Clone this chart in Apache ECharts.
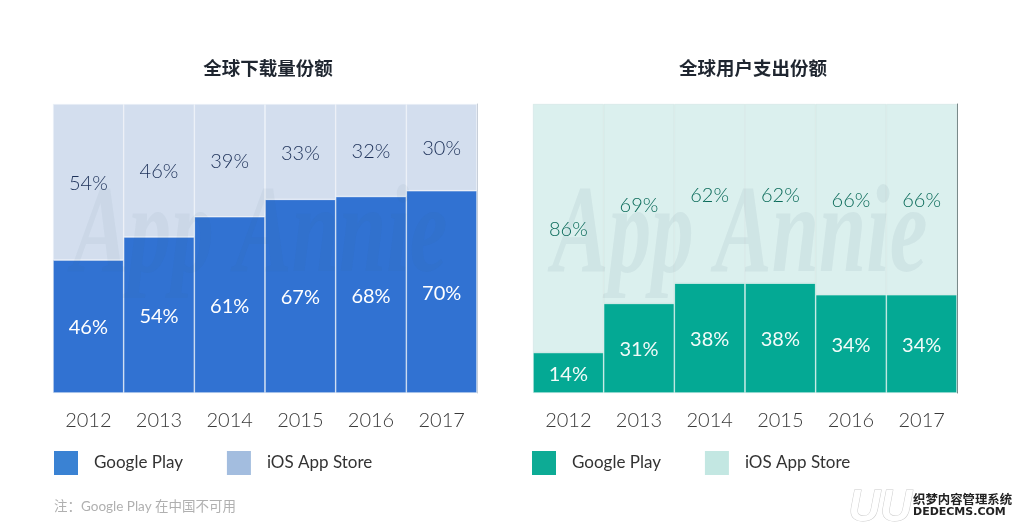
<!DOCTYPE html>
<html>
<head>
<meta charset="utf-8">
<style>
  html, body { margin: 0; padding: 0; background: #fff; }
  #main { width: 1022px; height: 527px; }
</style>
<script src="https://cdn.jsdelivr.net/npm/echarts@6/dist/echarts.min.js"></script>
</head>
<body>
<div id="main"></div>
<script>
const years = ["2012", "2013", "2014", "2015", "2016", "2017"];

// 全球下载量份额
const downloadGoogle = [46, 54, 61, 67, 68, 70];
const downloadIos = [54, 46, 39, 33, 32, 30];

// 全球用户支出份额
const spendGoogle = [14, 31, 38, 38, 34, 34];
const spendIos = [86, 69, 62, 62, 66, 66];

const FONT = "Lato, 'Noto Sans CJK SC', sans-serif";
const myChart = echarts.init(document.getElementById("main"));

function makeXAxis(gridIndex) {
    return {
        type: "category",
        gridIndex: gridIndex,
        data: years,
        axisLine: { show: false },
        axisTick: { show: false },
        axisLabel: { color: "#3a3a3a", fontSize: 20, fontWeight: 300, fontFamily: FONT, margin: 18 },
    };
}

function makeYAxis(gridIndex, edgeColor) {
    return {
        type: "value",
        gridIndex: gridIndex,
        position: "right",
        min: 0,
        max: 100,
        axisLine: { show: true, lineStyle: { color: edgeColor, width: 1 } },
        axisTick: { show: false },
        axisLabel: { show: false },
        splitLine: { show: false },
    };
}

function makeBar(name, data, axisIndex, color, labelColor, labelWeight, borderColor) {
    return {
        name: name,
        type: "bar",
        stack: "share" + axisIndex,
        xAxisIndex: axisIndex,
        yAxisIndex: axisIndex,
        barCategoryGap: 0,
        data: data,
        itemStyle: { color: color, borderColor: borderColor, borderWidth: 0.6 },
        label: {
            show: true,
            position: "inside",
            offset: [0, 1.5],
            formatter: "{c}%",
            color: labelColor,
            fontSize: 20,
            fontWeight: labelWeight,
            fontFamily: FONT,
        },
    };
}

function makeLegend(left, items) {
    return {
        left: left,
        top: 451,
        padding: 0,
        itemWidth: 24,
        itemHeight: 24,
        itemGap: 44,
        selectedMode: false,
        icon: "rect",
        textStyle: { color: "#333", fontSize: 17, fontFamily: FONT, padding: [0, 0, 0, 11] },
        data: items,
    };
}

function makeWatermark(x, opacity) {
    return {
        type: "text",
        left: x,
        top: 176,
        z: 50,
        silent: true,
        scaleX: 0.68,
        style: {
            text: "App Annie",
            fill: "rgba(60, 90, 110, " + opacity + ")",
            font: "italic bold 125px 'Liberation Serif', serif",
        },
    };
}

const titleStyle = { color: "#1f2630", fontSize: 18.5, fontWeight: "bold", fontFamily: "'Noto Sans CJK SC'" };

myChart.setOption({
    backgroundColor: "#fff",
    animation: false,
    title: [
        { text: "全球下载量份额", left: 268, top: 59, padding: 0, textAlign: "center", textStyle: titleStyle },
        { text: "全球用户支出份额", left: 753, top: 59, padding: 0, textAlign: "center", textStyle: titleStyle },
    ],
    grid: [
        { left: 53, top: 104, width: 424, height: 289 },
        { left: 533, top: 104, width: 424, height: 289 },
    ],
    xAxis: [makeXAxis(0), makeXAxis(1)],
    yAxis: [makeYAxis(0, "#c4ccd6"), makeYAxis(1, "#6f7f80")],
    legend: [
        makeLegend(54, [
            { name: "Google Play", itemStyle: { color: "#3a82d3", borderWidth: 0 } },
            { name: "iOS App Store", itemStyle: { color: "#a3bddf", borderWidth: 0 } },
        ]),
        makeLegend(532, [
            { name: "Google Play", itemStyle: { color: "#0dab95", borderWidth: 0 } },
            { name: "iOS App Store", itemStyle: { color: "#c3e7e2", borderWidth: 0 } },
        ]),
    ],
    series: [
        makeBar("Google Play", downloadGoogle, 0, "#3172d2", "#fff", 400, "#e8eef7"),
        makeBar("iOS App Store", downloadIos, 0, "#d3deee", "#1c3058", 300, "#eef2f8"),
        makeBar("Google Play", spendGoogle, 1, "#04a994", "#f2fbf9", 400, "#e3f3f0"),
        makeBar("iOS App Store", spendIos, 1, "#dbf0ee", "#0b6b5a", 300, "#d0e4e3"),
    ],
    graphic: [
        makeWatermark(72, 0.05),
        makeWatermark(552, 0.07),
        {
            type: "text",
            left: 54,
            top: 500,
            style: {
                text: "注：Google Play 在中国不可用",
                fill: "#b0b0b0",
                font: "13.5px Lato, 'Noto Sans CJK SC', sans-serif",
            },
        },
        {
            type: "text",
            left: 848,
            top: 486,
            style: {
                text: "UU",
                fill: "#fff",
                stroke: "#ccc",
                lineWidth: 1,
                font: "italic bold 44px 'Liberation Sans', sans-serif",
            },
        },
        {
            type: "text",
            left: 913,
            top: 493,
            style: {
                text: "织梦内容管理系统",
                fill: "#222",
                font: "bold 12.4px 'Noto Sans CJK SC'",
            },
        },
        {
            type: "text",
            left: 913,
            top: 507,
            style: {
                text: "DEDECMS.COM",
                fill: "#222",
                font: "bold 11px 'DejaVu Sans', sans-serif",
            },
        },
    ],
});
</script>
</body>
</html>
